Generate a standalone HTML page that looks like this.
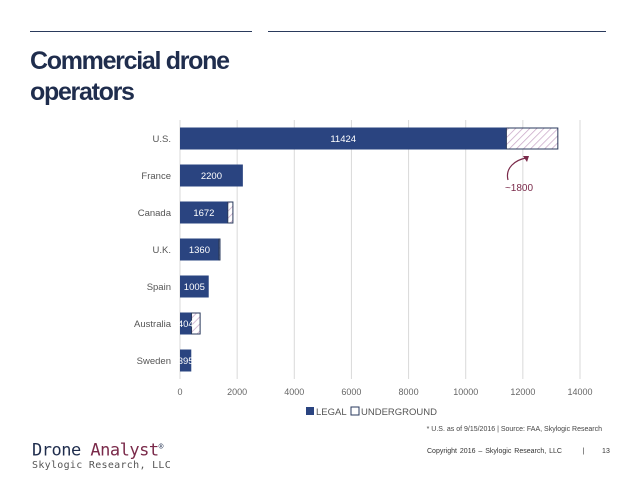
<!DOCTYPE html>
<html><head><meta charset="utf-8"><style>
body{margin:0;width:638px;height:479px;background:#fff;font-family:"Liberation Sans",sans-serif;overflow:hidden;position:relative}
.t{position:absolute}
</style></head><body>
<div class="t" style="left:30px;top:31px;width:222px;height:1px;background:#2a3a5c"></div>
<div class="t" style="left:268px;top:31px;width:338px;height:1px;background:#2a3a5c"></div>
<div class="t" style="left:30px;top:46px;font-size:25px;font-weight:bold;color:#1f2d4d;letter-spacing:-1.3px;line-height:31px">Commercial drone<br>operators</div>
<svg class="t" style="left:0;top:0" width="638" height="479" id="chart">
<defs><pattern id="hatch" width="5" height="5" patternUnits="userSpaceOnUse" patternTransform="rotate(45)"><rect width="5" height="5" fill="#fff"/><line x1="0" y1="0" x2="0" y2="5" stroke="#c9a8c8" stroke-width="1.5"/></pattern></defs>
<g id="grid"></g><g id="bars"></g><g id="labels"></g>
<path d="M508 180 C 505 168, 515 160, 526 158" fill="none" stroke="#7a2a4a" stroke-width="1.2"/>
<path d="M529 156 L523 156 L527 162 Z" fill="#7a2a4a"/>
<text x="519" y="191" font-size="10" fill="#7a2a4a" text-anchor="middle">~1800</text>
<rect x="306" y="407" width="8" height="8" fill="#2a4480"/>
<text x="316" y="415" font-size="9.5" fill="#555">LEGAL</text>
<rect x="351" y="407" width="8" height="8" fill="#fff" stroke="#2a3a5c"/>
<text x="361" y="415" font-size="9.5" fill="#555">UNDERGROUND</text>
</svg>
<div class="t" style="right:36px;top:426px;font-size:7px;color:#444">* U.S. as of 9/15/2016 | Source: FAA, Skylogic Research</div>
<div class="t" style="left:32px;top:438px;font-family:'DejaVu Sans Mono',monospace;font-size:17px;color:#1f2d4d;line-height:17px;letter-spacing:-0.5px">Drone <span style="color:#7a2a4a">Analyst</span><sup style="font-size:8px">®</sup><div style="font-size:10px;color:#555;line-height:11px;letter-spacing:0.3px">Skylogic Research, LLC</div></div>
<div class="t" style="left:427px;top:448px;font-size:7px;color:#333;word-spacing:1px">Copyright 2016 – Skylogic Research, LLC &nbsp;&nbsp;&nbsp;&nbsp;&nbsp;&nbsp;| &nbsp;&nbsp;&nbsp;&nbsp;&nbsp;13</div>
<script>
const categories=["U.S.","France","Canada","U.K.","Spain","Australia","Sweden"];
const legal=[11424,2200,1672,1360,1005,404,395];
const underground=[1800,0,180,40,0,300,0];
const ticks=[0,2000,4000,6000,8000,10000,12000,14000];
const ns="http://www.w3.org/2000/svg";
const x0=180,x1=580,xmax=14000,plotTop=120,band=37;
const X=v=>x0+(x1-x0)*v/xmax;
const Y=i=>plotTop+band*i+band/2;
const gridG=document.getElementById('grid'),barG=document.getElementById('bars'),labG=document.getElementById('labels');
function mk(tag,a,p){const e=document.createElementNS(ns,tag);for(const k in a)e.setAttribute(k,a[k]);p.appendChild(e);return e;}
ticks.forEach(t=>{const ln=mk('line',{x1:X(t),x2:X(t),y1:plotTop,y2:plotTop+band*7,stroke:'#d9d9d9','stroke-width':1},gridG);


const tx=mk('text',{x:X(t),y:395,'font-size':9,fill:'#666','text-anchor':'middle'},gridG);tx.textContent=t;

});
categories.forEach((c,i)=>{const y=Y(i)-11;
const r=mk('rect',{x:X(0),y:y,width:X(legal[i])-X(0),height:22,fill:'#2a4480'},barG);


if(underground[i]>0){const u=mk('rect',{x:X(legal[i]),y:y+0.5,width:X(legal[i]+underground[i])-X(legal[i]),height:21,fill:'url(#hatch)',stroke:'#2a3a5c','stroke-width':1},barG);

}
const cl=mk('text',{x:171,y:Y(i)+3.5,'font-size':9.5,fill:'#555','text-anchor':'end'},labG);cl.textContent=c;


const vl=mk('text',{x:(X(0)+X(legal[i]))/2,y:Y(i)+3.5,'font-size':9.5,fill:'#fff','text-anchor':'middle'},labG);vl.textContent=legal[i];

});
</script>
</body></html>
